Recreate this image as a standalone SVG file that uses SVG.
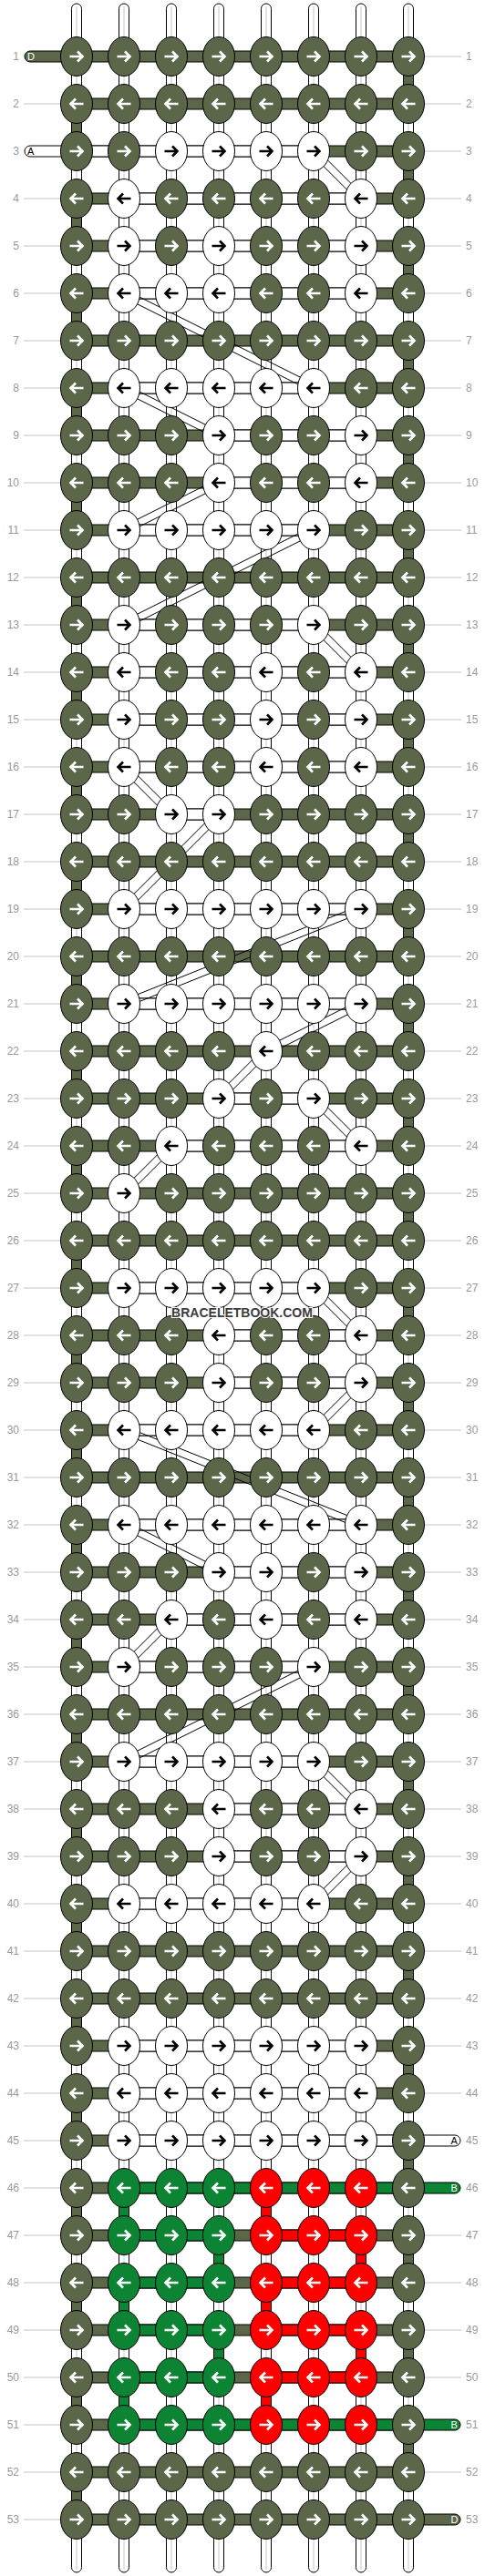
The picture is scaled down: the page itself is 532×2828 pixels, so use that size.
<svg xmlns="http://www.w3.org/2000/svg" width="532" height="2828" viewBox="0 0 532 2828">
<style>
.lb{font:12px "Liberation Sans",Arial,sans-serif;fill:#9a9a9a}
.lbl{text-anchor:end}
.pl{font:11px "Liberation Sans",Arial,sans-serif}
.dg{fill:none;stroke:#000;stroke-width:1}
.k{stroke:#000;stroke-width:1}
</style>
<defs>
<path id="aR" d="M-7.5,0H6M1,-5.5L6.5,0L1,5.5" fill="none" stroke-width="2.6"/>
<path id="aL" d="M7.5,0H-6M-1,-5.5L-6.5,0L-1,5.5" fill="none" stroke-width="2.6"/>
<g id="dR"><ellipse rx="17.5" ry="21.5" fill="#5c6749" stroke="#000"/><use href="#aR" stroke="#fff"/></g>
<g id="dL"><ellipse rx="17.5" ry="21.5" fill="#5c6749" stroke="#000"/><use href="#aL" stroke="#fff"/></g>
<g id="wR"><ellipse rx="17.5" ry="21.5" fill="#fff" stroke="#000"/><use href="#aR" stroke="#000"/></g>
<g id="wL"><ellipse rx="17.5" ry="21.5" fill="#fff" stroke="#000"/><use href="#aL" stroke="#000"/></g>
<g id="gR"><ellipse rx="17.5" ry="21.5" fill="#0d8433" stroke="#000"/><use href="#aR" stroke="#fff"/></g>
<g id="gL"><ellipse rx="17.5" ry="21.5" fill="#0d8433" stroke="#000"/><use href="#aL" stroke="#fff"/></g>
<g id="rR"><ellipse rx="17.5" ry="21.5" fill="#ff0000" stroke="#000"/><use href="#aR" stroke="#fff"/></g>
<g id="rL"><ellipse rx="17.5" ry="21.5" fill="#ff0000" stroke="#000"/><use href="#aL" stroke="#fff"/></g>
</defs>
<rect width="532" height="2828" fill="#fff"/>
<g id="row-guides">
<path stroke="#c4c4c4" stroke-width="1" fill="none" d="M26,114H66M26,218H66M26,270H66M26,322H66M26,374H66M26,426H66M26,478H66M26,530H66M26,582H66M26,634H66M26,686H66M26,738H66M26,790H66M26,842H66M26,894H66M26,946H66M26,998H66M26,1050H66M26,1102H66M26,1154H66M26,1206H66M26,1258H66M26,1310H66M26,1362H66M26,1414H66M26,1466H66M26,1518H66M26,1570H66M26,1622H66M26,1674H66M26,1726H66M26,1778H66M26,1830H66M26,1882H66M26,1934H66M26,1986H66M26,2038H66M26,2090H66M26,2142H66M26,2194H66M26,2246H66M26,2298H66M26,2350H66M26,2402H66M26,2454H66M26,2506H66M26,2558H66M26,2610H66M26,2662H66M26,2714H66M26,2766H66M466,62H506M466,114H506M466,166H506M466,218H506M466,270H506M466,322H506M466,374H506M466,426H506M466,478H506M466,530H506M466,582H506M466,634H506M466,686H506M466,738H506M466,790H506M466,842H506M466,894H506M466,946H506M466,998H506M466,1050H506M466,1102H506M466,1154H506M466,1206H506M466,1258H506M466,1310H506M466,1362H506M466,1414H506M466,1466H506M466,1518H506M466,1570H506M466,1622H506M466,1674H506M466,1726H506M466,1778H506M466,1830H506M466,1882H506M466,1934H506M466,1986H506M466,2038H506M466,2090H506M466,2142H506M466,2194H506M466,2246H506M466,2298H506M466,2454H506M466,2506H506M466,2558H506M466,2610H506M466,2714H506"/>
<g class="lb lbl">
<text x="21" y="66.3">1</text><text x="21" y="118.3">2</text><text x="21" y="170.3">3</text><text x="21" y="222.3">4</text><text x="21" y="274.3">5</text><text x="21" y="326.3">6</text><text x="21" y="378.3">7</text><text x="21" y="430.3">8</text><text x="21" y="482.3">9</text><text x="21" y="534.3">10</text><text x="21" y="586.3">11</text><text x="21" y="638.3">12</text><text x="21" y="690.3">13</text><text x="21" y="742.3">14</text><text x="21" y="794.3">15</text><text x="21" y="846.3">16</text><text x="21" y="898.3">17</text><text x="21" y="950.3">18</text><text x="21" y="1002.3">19</text><text x="21" y="1054.3">20</text><text x="21" y="1106.3">21</text><text x="21" y="1158.3">22</text><text x="21" y="1210.3">23</text><text x="21" y="1262.3">24</text><text x="21" y="1314.3">25</text><text x="21" y="1366.3">26</text><text x="21" y="1418.3">27</text><text x="21" y="1470.3">28</text><text x="21" y="1522.3">29</text><text x="21" y="1574.3">30</text><text x="21" y="1626.3">31</text><text x="21" y="1678.3">32</text><text x="21" y="1730.3">33</text><text x="21" y="1782.3">34</text><text x="21" y="1834.3">35</text><text x="21" y="1886.3">36</text><text x="21" y="1938.3">37</text><text x="21" y="1990.3">38</text><text x="21" y="2042.3">39</text><text x="21" y="2094.3">40</text><text x="21" y="2146.3">41</text><text x="21" y="2198.3">42</text><text x="21" y="2250.3">43</text><text x="21" y="2302.3">44</text><text x="21" y="2354.3">45</text><text x="21" y="2406.3">46</text><text x="21" y="2458.3">47</text><text x="21" y="2510.3">48</text><text x="21" y="2562.3">49</text><text x="21" y="2614.3">50</text><text x="21" y="2666.3">51</text><text x="21" y="2718.3">52</text><text x="21" y="2770.3">53</text>
</g>
<g class="lb">
<text x="511" y="66.3">1</text><text x="511" y="118.3">2</text><text x="511" y="170.3">3</text><text x="511" y="222.3">4</text><text x="511" y="274.3">5</text><text x="511" y="326.3">6</text><text x="511" y="378.3">7</text><text x="511" y="430.3">8</text><text x="511" y="482.3">9</text><text x="511" y="534.3">10</text><text x="511" y="586.3">11</text><text x="511" y="638.3">12</text><text x="511" y="690.3">13</text><text x="511" y="742.3">14</text><text x="511" y="794.3">15</text><text x="511" y="846.3">16</text><text x="511" y="898.3">17</text><text x="511" y="950.3">18</text><text x="511" y="1002.3">19</text><text x="511" y="1054.3">20</text><text x="511" y="1106.3">21</text><text x="511" y="1158.3">22</text><text x="511" y="1210.3">23</text><text x="511" y="1262.3">24</text><text x="511" y="1314.3">25</text><text x="511" y="1366.3">26</text><text x="511" y="1418.3">27</text><text x="511" y="1470.3">28</text><text x="511" y="1522.3">29</text><text x="511" y="1574.3">30</text><text x="511" y="1626.3">31</text><text x="511" y="1678.3">32</text><text x="511" y="1730.3">33</text><text x="511" y="1782.3">34</text><text x="511" y="1834.3">35</text><text x="511" y="1886.3">36</text><text x="511" y="1938.3">37</text><text x="511" y="1990.3">38</text><text x="511" y="2042.3">39</text><text x="511" y="2094.3">40</text><text x="511" y="2146.3">41</text><text x="511" y="2198.3">42</text><text x="511" y="2250.3">43</text><text x="511" y="2302.3">44</text><text x="511" y="2354.3">45</text><text x="511" y="2406.3">46</text><text x="511" y="2458.3">47</text><text x="511" y="2510.3">48</text><text x="511" y="2562.3">49</text><text x="511" y="2614.3">50</text><text x="511" y="2666.3">51</text><text x="511" y="2718.3">52</text><text x="511" y="2770.3">53</text>
</g>
</g>
<g id="connectors">
<g id="base-threads" fill="#fff" stroke="#000">
<rect x="78.5" y="4" width="11" height="2820" rx="5.5"/><rect x="130.5" y="4" width="11" height="2820" rx="5.5"/><rect x="182.5" y="4" width="11" height="2820" rx="5.5"/><rect x="234.5" y="4" width="11" height="2820" rx="5.5"/><rect x="286.5" y="4" width="11" height="2820" rx="5.5"/><rect x="338.5" y="4" width="11" height="2820" rx="5.5"/><rect x="390.5" y="4" width="11" height="2820" rx="5.5"/><rect x="442.5" y="4" width="11" height="2820" rx="5.5"/>
<path fill="none" stroke="#c8c8c8" d="M84,7V2821M136,7V2821M188,7V2821M240,7V2821M292,7V2821M344,7V2821M396,7V2821M448,7V2821"/>
</g>
<path id="thread-D-rows" class="k" fill="#5c6749" d="M448,56H33A6,6 0 0 0 33,68H448zM84,108h364v12h-364zM84,160h364v12h-364zM84,212h364v12h-364zM84,264h364v12h-364zM84,316h364v12h-364zM84,368h364v12h-364zM84,420h364v12h-364zM84,472h364v12h-364zM84,524h364v12h-364zM84,576h364v12h-364zM84,628h364v12h-364zM84,680h364v12h-364zM84,732h364v12h-364zM84,784h364v12h-364zM84,836h364v12h-364zM84,888h364v12h-364zM84,940h364v12h-364zM84,992h364v12h-364zM84,1044h364v12h-364zM84,1096h364v12h-364zM84,1148h364v12h-364zM84,1200h364v12h-364zM84,1252h364v12h-364zM84,1304h364v12h-364zM84,1356h364v12h-364zM84,1408h364v12h-364zM84,1460h364v12h-364zM84,1512h364v12h-364zM84,1564h364v12h-364zM84,1616h364v12h-364zM84,1668h364v12h-364zM84,1720h364v12h-364zM84,1772h364v12h-364zM84,1824h364v12h-364zM84,1876h364v12h-364zM84,1928h364v12h-364zM84,1980h364v12h-364zM84,2032h364v12h-364zM84,2084h364v12h-364zM84,2136h364v12h-364zM84,2188h364v12h-364zM84,2240h364v12h-364zM84,2292h364v12h-364zM84,2344h364v12h-364zM84,2396h364v12h-364zM84,2448h364v12h-364zM84,2500h364v12h-364zM84,2552h364v12h-364zM84,2604h364v12h-364zM84,2656h364v12h-364zM84,2708h364v12h-364zM84,2760H499A6,6 0 0 1 499,2772H84z"/>
<path id="thread-D-turns" class="k" fill="#5c6749" d="M78.5,114h11v52h-11zM78.5,218h11v52h-11zM78.5,322h11v52h-11zM78.5,426h11v52h-11zM78.5,530h11v52h-11zM78.5,634h11v52h-11zM78.5,738h11v52h-11zM78.5,842h11v52h-11zM78.5,946h11v52h-11zM78.5,1050h11v52h-11zM78.5,1154h11v52h-11zM78.5,1258h11v52h-11zM78.5,1362h11v52h-11zM78.5,1466h11v52h-11zM78.5,1570h11v52h-11zM78.5,1674h11v52h-11zM78.5,1778h11v52h-11zM78.5,1882h11v52h-11zM78.5,1986h11v52h-11zM78.5,2090h11v52h-11zM78.5,2194h11v52h-11zM78.5,2298h11v52h-11zM78.5,2402h11v52h-11zM78.5,2506h11v52h-11zM78.5,2610h11v52h-11zM78.5,2714h11v52h-11zM442.5,62h11v52h-11zM442.5,166h11v52h-11zM442.5,270h11v52h-11zM442.5,374h11v52h-11zM442.5,478h11v52h-11zM442.5,582h11v52h-11zM442.5,686h11v52h-11zM442.5,790h11v52h-11zM442.5,894h11v52h-11zM442.5,998h11v52h-11zM442.5,1102h11v52h-11zM442.5,1206h11v52h-11zM442.5,1310h11v52h-11zM442.5,1414h11v52h-11zM442.5,1518h11v52h-11zM442.5,1622h11v52h-11zM442.5,1726h11v52h-11zM442.5,1830h11v52h-11zM442.5,1934h11v52h-11zM442.5,2038h11v52h-11zM442.5,2142h11v52h-11zM442.5,2246h11v52h-11zM442.5,2350h11v52h-11zM442.5,2454h11v52h-11zM442.5,2558h11v52h-11zM442.5,2662h11v52h-11z"/>
<path id="thread-A" class="k" fill="#fff" d="M344,160H33A6,6 0 0 0 33,172H344zM136,212H396v12H136zM136,264H396v12H136zM136,316H396v12H136zM136,420H344v12H136zM240,472H396v12H240zM240,524H396v12H240zM136,576H344v12H136zM136,680H344v12H136zM136,732H396v12H136zM136,784H396v12H136zM136,836H396v12H136zM188,888H240v12H188zM136,992H396v12H136zM136,1096H396v12H136zM240,1200H344v12H240zM188,1252H396v12H188zM136,1408H344v12H136zM240,1460H396v12H240zM240,1512H396v12H240zM136,1564H344v12H136zM136,1668H396v12H136zM240,1720H396v12H240zM188,1772H396v12H188zM136,1824H344v12H136zM136,1928H344v12H136zM240,1980H396v12H240zM240,2032H396v12H240zM136,2084H344v12H136zM136,2240H396v12H136zM136,2292H396v12H136zM136,2344H499A6,6 0 0 1 499,2356H136z"/>
<path id="thread-B" class="k" fill="#0d8433" d="M136,2396H499A6,6 0 0 1 499,2408H136zM136,2448H240v12H136zM136,2500H240v12H136zM136,2552H240v12H136zM136,2604H240v12H136zM136,2656H499A6,6 0 0 1 499,2668H136zM130.5,2402h11v52h-11zM234.5,2454h11v52h-11zM130.5,2506h11v52h-11zM234.5,2558h11v52h-11zM130.5,2610h11v52h-11z"/>
<path id="thread-C" class="k" fill="#ff0000" d="M292,2448H396v12H292zM292,2500H396v12H292zM292,2552H396v12H292zM292,2604H396v12H292zM286.5,2402h11v52h-11zM390.5,2454h11v52h-11zM286.5,2506h11v52h-11zM390.5,2558h11v52h-11zM286.5,2610h11v52h-11z"/>
<g id="diagonals">
<path class="dg" d="M341.2,168.8L393.2,220.8M346.8,163.2L398.8,215.2"/>
<path class="dg" d="M134.2,325.6L342.2,429.6M137.8,318.4L345.8,422.4"/>
<path class="dg" d="M134.2,429.6L238.2,481.6M137.8,422.4L241.8,474.4"/>
<path class="dg" d="M238.2,526.4L134.2,578.4M241.8,533.6L137.8,585.6"/>
<path class="dg" d="M342.2,578.4L134.2,682.4M345.8,585.6L137.8,689.6"/>
<path class="dg" d="M341.2,688.8L393.2,740.8M346.8,683.2L398.8,735.2"/>
<path class="dg" d="M133.2,844.8L185.2,896.8M138.8,839.2L190.8,891.2"/>
<path class="dg" d="M237.2,891.2L133.2,995.2M242.8,896.8L138.8,1000.8"/>
<path class="dg" d="M394.5,994.3L134.5,1098.3M397.5,1001.7L137.5,1105.7"/>
<path class="dg" d="M394.2,1098.4L290.2,1150.4M397.8,1105.6L293.8,1157.6"/>
<path class="dg" d="M289.2,1151.2L237.2,1203.2M294.8,1156.8L242.8,1208.8"/>
<path class="dg" d="M341.2,1208.8L393.2,1260.8M346.8,1203.2L398.8,1255.2"/>
<path class="dg" d="M185.2,1255.2L133.2,1307.2M190.8,1260.8L138.8,1312.8"/>
<path class="dg" d="M341.2,1416.8L393.2,1468.8M346.8,1411.2L398.8,1463.2"/>
<path class="dg" d="M393.2,1515.2L341.2,1567.2M398.8,1520.8L346.8,1572.8"/>
<path class="dg" d="M134.5,1573.7L394.5,1677.7M137.5,1566.3L397.5,1670.3"/>
<path class="dg" d="M134.2,1677.6L238.2,1729.6M137.8,1670.4L241.8,1722.4"/>
<path class="dg" d="M185.2,1775.2L133.2,1827.2M190.8,1780.8L138.8,1832.8"/>
<path class="dg" d="M342.2,1826.4L134.2,1930.4M345.8,1833.6L137.8,1937.6"/>
<path class="dg" d="M341.2,1936.8L393.2,1988.8M346.8,1931.2L398.8,1983.2"/>
<path class="dg" d="M393.2,2035.2L341.2,2087.2M398.8,2040.8L346.8,2092.8"/>
</g>
<g id="thread-labels" class="pl">
<text x="30" y="66" fill="#fff">D</text>
<text x="30" y="170" fill="#000">A</text>
<text x="494.5" y="2354" fill="#000">A</text>
<text x="494.5" y="2406" fill="#fff">B</text>
<text x="494.5" y="2666" fill="#fff">B</text>
<text x="494.5" y="2770" fill="#fff">D</text>
</g>
</g>
<g id="knots">
<g id="row1" transform="translate(0,62)"><use id="n1-1" href="#dR" x="84"/><use id="n1-2" href="#dR" x="136"/><use id="n1-3" href="#dR" x="188"/><use id="n1-4" href="#dR" x="240"/><use id="n1-5" href="#dR" x="292"/><use id="n1-6" href="#dR" x="344"/><use id="n1-7" href="#dR" x="396"/><use id="n1-8" href="#dR" x="448"/></g>
<g id="row2" transform="translate(0,114)"><use id="n2-1" href="#dL" x="84"/><use id="n2-2" href="#dL" x="136"/><use id="n2-3" href="#dL" x="188"/><use id="n2-4" href="#dL" x="240"/><use id="n2-5" href="#dL" x="292"/><use id="n2-6" href="#dL" x="344"/><use id="n2-7" href="#dL" x="396"/><use id="n2-8" href="#dL" x="448"/></g>
<g id="row3" transform="translate(0,166)"><use id="n3-1" href="#dR" x="84"/><use id="n3-2" href="#dR" x="136"/><use id="n3-3" href="#wR" x="188"/><use id="n3-4" href="#wR" x="240"/><use id="n3-5" href="#wR" x="292"/><use id="n3-6" href="#wR" x="344"/><use id="n3-7" href="#dR" x="396"/><use id="n3-8" href="#dR" x="448"/></g>
<g id="row4" transform="translate(0,218)"><use id="n4-1" href="#dL" x="84"/><use id="n4-2" href="#wL" x="136"/><use id="n4-3" href="#dL" x="188"/><use id="n4-4" href="#dL" x="240"/><use id="n4-5" href="#dL" x="292"/><use id="n4-6" href="#dL" x="344"/><use id="n4-7" href="#wL" x="396"/><use id="n4-8" href="#dL" x="448"/></g>
<g id="row5" transform="translate(0,270)"><use id="n5-1" href="#dR" x="84"/><use id="n5-2" href="#wR" x="136"/><use id="n5-3" href="#dR" x="188"/><use id="n5-4" href="#wR" x="240"/><use id="n5-5" href="#dR" x="292"/><use id="n5-6" href="#dR" x="344"/><use id="n5-7" href="#wR" x="396"/><use id="n5-8" href="#dR" x="448"/></g>
<g id="row6" transform="translate(0,322)"><use id="n6-1" href="#dL" x="84"/><use id="n6-2" href="#wL" x="136"/><use id="n6-3" href="#wL" x="188"/><use id="n6-4" href="#wL" x="240"/><use id="n6-5" href="#dL" x="292"/><use id="n6-6" href="#dL" x="344"/><use id="n6-7" href="#wL" x="396"/><use id="n6-8" href="#dL" x="448"/></g>
<g id="row7" transform="translate(0,374)"><use id="n7-1" href="#dR" x="84"/><use id="n7-2" href="#dR" x="136"/><use id="n7-3" href="#dR" x="188"/><use id="n7-4" href="#dR" x="240"/><use id="n7-5" href="#dR" x="292"/><use id="n7-6" href="#dR" x="344"/><use id="n7-7" href="#dR" x="396"/><use id="n7-8" href="#dR" x="448"/></g>
<g id="row8" transform="translate(0,426)"><use id="n8-1" href="#dL" x="84"/><use id="n8-2" href="#wL" x="136"/><use id="n8-3" href="#wL" x="188"/><use id="n8-4" href="#wL" x="240"/><use id="n8-5" href="#wL" x="292"/><use id="n8-6" href="#wL" x="344"/><use id="n8-7" href="#dL" x="396"/><use id="n8-8" href="#dL" x="448"/></g>
<g id="row9" transform="translate(0,478)"><use id="n9-1" href="#dR" x="84"/><use id="n9-2" href="#dR" x="136"/><use id="n9-3" href="#dR" x="188"/><use id="n9-4" href="#wR" x="240"/><use id="n9-5" href="#dR" x="292"/><use id="n9-6" href="#dR" x="344"/><use id="n9-7" href="#wR" x="396"/><use id="n9-8" href="#dR" x="448"/></g>
<g id="row10" transform="translate(0,530)"><use id="n10-1" href="#dL" x="84"/><use id="n10-2" href="#dL" x="136"/><use id="n10-3" href="#dL" x="188"/><use id="n10-4" href="#wL" x="240"/><use id="n10-5" href="#dL" x="292"/><use id="n10-6" href="#dL" x="344"/><use id="n10-7" href="#wL" x="396"/><use id="n10-8" href="#dL" x="448"/></g>
<g id="row11" transform="translate(0,582)"><use id="n11-1" href="#dR" x="84"/><use id="n11-2" href="#wR" x="136"/><use id="n11-3" href="#wR" x="188"/><use id="n11-4" href="#wR" x="240"/><use id="n11-5" href="#wR" x="292"/><use id="n11-6" href="#wR" x="344"/><use id="n11-7" href="#dR" x="396"/><use id="n11-8" href="#dR" x="448"/></g>
<g id="row12" transform="translate(0,634)"><use id="n12-1" href="#dL" x="84"/><use id="n12-2" href="#dL" x="136"/><use id="n12-3" href="#dL" x="188"/><use id="n12-4" href="#dL" x="240"/><use id="n12-5" href="#dL" x="292"/><use id="n12-6" href="#dL" x="344"/><use id="n12-7" href="#dL" x="396"/><use id="n12-8" href="#dL" x="448"/></g>
<g id="row13" transform="translate(0,686)"><use id="n13-1" href="#dR" x="84"/><use id="n13-2" href="#wR" x="136"/><use id="n13-3" href="#dR" x="188"/><use id="n13-4" href="#dR" x="240"/><use id="n13-5" href="#dR" x="292"/><use id="n13-6" href="#wR" x="344"/><use id="n13-7" href="#dR" x="396"/><use id="n13-8" href="#dR" x="448"/></g>
<g id="row14" transform="translate(0,738)"><use id="n14-1" href="#dL" x="84"/><use id="n14-2" href="#wL" x="136"/><use id="n14-3" href="#dL" x="188"/><use id="n14-4" href="#dL" x="240"/><use id="n14-5" href="#wL" x="292"/><use id="n14-6" href="#dL" x="344"/><use id="n14-7" href="#wL" x="396"/><use id="n14-8" href="#dL" x="448"/></g>
<g id="row15" transform="translate(0,790)"><use id="n15-1" href="#dR" x="84"/><use id="n15-2" href="#wR" x="136"/><use id="n15-3" href="#dR" x="188"/><use id="n15-4" href="#dR" x="240"/><use id="n15-5" href="#wR" x="292"/><use id="n15-6" href="#dR" x="344"/><use id="n15-7" href="#wR" x="396"/><use id="n15-8" href="#dR" x="448"/></g>
<g id="row16" transform="translate(0,842)"><use id="n16-1" href="#dL" x="84"/><use id="n16-2" href="#wL" x="136"/><use id="n16-3" href="#dL" x="188"/><use id="n16-4" href="#dL" x="240"/><use id="n16-5" href="#wL" x="292"/><use id="n16-6" href="#dL" x="344"/><use id="n16-7" href="#wL" x="396"/><use id="n16-8" href="#dL" x="448"/></g>
<g id="row17" transform="translate(0,894)"><use id="n17-1" href="#dR" x="84"/><use id="n17-2" href="#dR" x="136"/><use id="n17-3" href="#wR" x="188"/><use id="n17-4" href="#wR" x="240"/><use id="n17-5" href="#dR" x="292"/><use id="n17-6" href="#dR" x="344"/><use id="n17-7" href="#dR" x="396"/><use id="n17-8" href="#dR" x="448"/></g>
<g id="row18" transform="translate(0,946)"><use id="n18-1" href="#dL" x="84"/><use id="n18-2" href="#dL" x="136"/><use id="n18-3" href="#dL" x="188"/><use id="n18-4" href="#dL" x="240"/><use id="n18-5" href="#dL" x="292"/><use id="n18-6" href="#dL" x="344"/><use id="n18-7" href="#dL" x="396"/><use id="n18-8" href="#dL" x="448"/></g>
<g id="row19" transform="translate(0,998)"><use id="n19-1" href="#dR" x="84"/><use id="n19-2" href="#wR" x="136"/><use id="n19-3" href="#wR" x="188"/><use id="n19-4" href="#wR" x="240"/><use id="n19-5" href="#wR" x="292"/><use id="n19-6" href="#wR" x="344"/><use id="n19-7" href="#wR" x="396"/><use id="n19-8" href="#dR" x="448"/></g>
<g id="row20" transform="translate(0,1050)"><use id="n20-1" href="#dL" x="84"/><use id="n20-2" href="#dL" x="136"/><use id="n20-3" href="#dL" x="188"/><use id="n20-4" href="#dL" x="240"/><use id="n20-5" href="#dL" x="292"/><use id="n20-6" href="#dL" x="344"/><use id="n20-7" href="#dL" x="396"/><use id="n20-8" href="#dL" x="448"/></g>
<g id="row21" transform="translate(0,1102)"><use id="n21-1" href="#dR" x="84"/><use id="n21-2" href="#wR" x="136"/><use id="n21-3" href="#wR" x="188"/><use id="n21-4" href="#wR" x="240"/><use id="n21-5" href="#wR" x="292"/><use id="n21-6" href="#wR" x="344"/><use id="n21-7" href="#wR" x="396"/><use id="n21-8" href="#dR" x="448"/></g>
<g id="row22" transform="translate(0,1154)"><use id="n22-1" href="#dL" x="84"/><use id="n22-2" href="#dL" x="136"/><use id="n22-3" href="#dL" x="188"/><use id="n22-4" href="#dL" x="240"/><use id="n22-5" href="#wL" x="292"/><use id="n22-6" href="#dL" x="344"/><use id="n22-7" href="#dL" x="396"/><use id="n22-8" href="#dL" x="448"/></g>
<g id="row23" transform="translate(0,1206)"><use id="n23-1" href="#dR" x="84"/><use id="n23-2" href="#dR" x="136"/><use id="n23-3" href="#dR" x="188"/><use id="n23-4" href="#wR" x="240"/><use id="n23-5" href="#dR" x="292"/><use id="n23-6" href="#wR" x="344"/><use id="n23-7" href="#dR" x="396"/><use id="n23-8" href="#dR" x="448"/></g>
<g id="row24" transform="translate(0,1258)"><use id="n24-1" href="#dL" x="84"/><use id="n24-2" href="#dL" x="136"/><use id="n24-3" href="#wL" x="188"/><use id="n24-4" href="#dL" x="240"/><use id="n24-5" href="#dL" x="292"/><use id="n24-6" href="#dL" x="344"/><use id="n24-7" href="#wL" x="396"/><use id="n24-8" href="#dL" x="448"/></g>
<g id="row25" transform="translate(0,1310)"><use id="n25-1" href="#dR" x="84"/><use id="n25-2" href="#wR" x="136"/><use id="n25-3" href="#dR" x="188"/><use id="n25-4" href="#dR" x="240"/><use id="n25-5" href="#dR" x="292"/><use id="n25-6" href="#dR" x="344"/><use id="n25-7" href="#dR" x="396"/><use id="n25-8" href="#dR" x="448"/></g>
<g id="row26" transform="translate(0,1362)"><use id="n26-1" href="#dL" x="84"/><use id="n26-2" href="#dL" x="136"/><use id="n26-3" href="#dL" x="188"/><use id="n26-4" href="#dL" x="240"/><use id="n26-5" href="#dL" x="292"/><use id="n26-6" href="#dL" x="344"/><use id="n26-7" href="#dL" x="396"/><use id="n26-8" href="#dL" x="448"/></g>
<g id="row27" transform="translate(0,1414)"><use id="n27-1" href="#dR" x="84"/><use id="n27-2" href="#wR" x="136"/><use id="n27-3" href="#wR" x="188"/><use id="n27-4" href="#wR" x="240"/><use id="n27-5" href="#wR" x="292"/><use id="n27-6" href="#wR" x="344"/><use id="n27-7" href="#dR" x="396"/><use id="n27-8" href="#dR" x="448"/></g>
<g id="row28" transform="translate(0,1466)"><use id="n28-1" href="#dL" x="84"/><use id="n28-2" href="#dL" x="136"/><use id="n28-3" href="#dL" x="188"/><use id="n28-4" href="#wL" x="240"/><use id="n28-5" href="#dL" x="292"/><use id="n28-6" href="#dL" x="344"/><use id="n28-7" href="#wL" x="396"/><use id="n28-8" href="#dL" x="448"/></g>
<g id="row29" transform="translate(0,1518)"><use id="n29-1" href="#dR" x="84"/><use id="n29-2" href="#dR" x="136"/><use id="n29-3" href="#dR" x="188"/><use id="n29-4" href="#wR" x="240"/><use id="n29-5" href="#dR" x="292"/><use id="n29-6" href="#dR" x="344"/><use id="n29-7" href="#wR" x="396"/><use id="n29-8" href="#dR" x="448"/></g>
<g id="row30" transform="translate(0,1570)"><use id="n30-1" href="#dL" x="84"/><use id="n30-2" href="#wL" x="136"/><use id="n30-3" href="#wL" x="188"/><use id="n30-4" href="#wL" x="240"/><use id="n30-5" href="#wL" x="292"/><use id="n30-6" href="#wL" x="344"/><use id="n30-7" href="#dL" x="396"/><use id="n30-8" href="#dL" x="448"/></g>
<g id="row31" transform="translate(0,1622)"><use id="n31-1" href="#dR" x="84"/><use id="n31-2" href="#dR" x="136"/><use id="n31-3" href="#dR" x="188"/><use id="n31-4" href="#dR" x="240"/><use id="n31-5" href="#dR" x="292"/><use id="n31-6" href="#dR" x="344"/><use id="n31-7" href="#dR" x="396"/><use id="n31-8" href="#dR" x="448"/></g>
<g id="row32" transform="translate(0,1674)"><use id="n32-1" href="#dL" x="84"/><use id="n32-2" href="#wL" x="136"/><use id="n32-3" href="#wL" x="188"/><use id="n32-4" href="#wL" x="240"/><use id="n32-5" href="#wL" x="292"/><use id="n32-6" href="#wL" x="344"/><use id="n32-7" href="#wL" x="396"/><use id="n32-8" href="#dL" x="448"/></g>
<g id="row33" transform="translate(0,1726)"><use id="n33-1" href="#dR" x="84"/><use id="n33-2" href="#dR" x="136"/><use id="n33-3" href="#dR" x="188"/><use id="n33-4" href="#wR" x="240"/><use id="n33-5" href="#wR" x="292"/><use id="n33-6" href="#dR" x="344"/><use id="n33-7" href="#wR" x="396"/><use id="n33-8" href="#dR" x="448"/></g>
<g id="row34" transform="translate(0,1778)"><use id="n34-1" href="#dL" x="84"/><use id="n34-2" href="#dL" x="136"/><use id="n34-3" href="#wL" x="188"/><use id="n34-4" href="#dL" x="240"/><use id="n34-5" href="#wL" x="292"/><use id="n34-6" href="#dL" x="344"/><use id="n34-7" href="#wL" x="396"/><use id="n34-8" href="#dL" x="448"/></g>
<g id="row35" transform="translate(0,1830)"><use id="n35-1" href="#dR" x="84"/><use id="n35-2" href="#wR" x="136"/><use id="n35-3" href="#dR" x="188"/><use id="n35-4" href="#dR" x="240"/><use id="n35-5" href="#dR" x="292"/><use id="n35-6" href="#wR" x="344"/><use id="n35-7" href="#dR" x="396"/><use id="n35-8" href="#dR" x="448"/></g>
<g id="row36" transform="translate(0,1882)"><use id="n36-1" href="#dL" x="84"/><use id="n36-2" href="#dL" x="136"/><use id="n36-3" href="#dL" x="188"/><use id="n36-4" href="#dL" x="240"/><use id="n36-5" href="#dL" x="292"/><use id="n36-6" href="#dL" x="344"/><use id="n36-7" href="#dL" x="396"/><use id="n36-8" href="#dL" x="448"/></g>
<g id="row37" transform="translate(0,1934)"><use id="n37-1" href="#dR" x="84"/><use id="n37-2" href="#wR" x="136"/><use id="n37-3" href="#wR" x="188"/><use id="n37-4" href="#wR" x="240"/><use id="n37-5" href="#wR" x="292"/><use id="n37-6" href="#wR" x="344"/><use id="n37-7" href="#dR" x="396"/><use id="n37-8" href="#dR" x="448"/></g>
<g id="row38" transform="translate(0,1986)"><use id="n38-1" href="#dL" x="84"/><use id="n38-2" href="#dL" x="136"/><use id="n38-3" href="#dL" x="188"/><use id="n38-4" href="#wL" x="240"/><use id="n38-5" href="#dL" x="292"/><use id="n38-6" href="#dL" x="344"/><use id="n38-7" href="#wL" x="396"/><use id="n38-8" href="#dL" x="448"/></g>
<g id="row39" transform="translate(0,2038)"><use id="n39-1" href="#dR" x="84"/><use id="n39-2" href="#dR" x="136"/><use id="n39-3" href="#dR" x="188"/><use id="n39-4" href="#wR" x="240"/><use id="n39-5" href="#dR" x="292"/><use id="n39-6" href="#dR" x="344"/><use id="n39-7" href="#wR" x="396"/><use id="n39-8" href="#dR" x="448"/></g>
<g id="row40" transform="translate(0,2090)"><use id="n40-1" href="#dL" x="84"/><use id="n40-2" href="#wL" x="136"/><use id="n40-3" href="#wL" x="188"/><use id="n40-4" href="#wL" x="240"/><use id="n40-5" href="#wL" x="292"/><use id="n40-6" href="#wL" x="344"/><use id="n40-7" href="#dL" x="396"/><use id="n40-8" href="#dL" x="448"/></g>
<g id="row41" transform="translate(0,2142)"><use id="n41-1" href="#dR" x="84"/><use id="n41-2" href="#dR" x="136"/><use id="n41-3" href="#dR" x="188"/><use id="n41-4" href="#dR" x="240"/><use id="n41-5" href="#dR" x="292"/><use id="n41-6" href="#dR" x="344"/><use id="n41-7" href="#dR" x="396"/><use id="n41-8" href="#dR" x="448"/></g>
<g id="row42" transform="translate(0,2194)"><use id="n42-1" href="#dL" x="84"/><use id="n42-2" href="#dL" x="136"/><use id="n42-3" href="#dL" x="188"/><use id="n42-4" href="#dL" x="240"/><use id="n42-5" href="#dL" x="292"/><use id="n42-6" href="#dL" x="344"/><use id="n42-7" href="#dL" x="396"/><use id="n42-8" href="#dL" x="448"/></g>
<g id="row43" transform="translate(0,2246)"><use id="n43-1" href="#dR" x="84"/><use id="n43-2" href="#wR" x="136"/><use id="n43-3" href="#wR" x="188"/><use id="n43-4" href="#wR" x="240"/><use id="n43-5" href="#wR" x="292"/><use id="n43-6" href="#wR" x="344"/><use id="n43-7" href="#wR" x="396"/><use id="n43-8" href="#dR" x="448"/></g>
<g id="row44" transform="translate(0,2298)"><use id="n44-1" href="#dL" x="84"/><use id="n44-2" href="#wL" x="136"/><use id="n44-3" href="#wL" x="188"/><use id="n44-4" href="#wL" x="240"/><use id="n44-5" href="#wL" x="292"/><use id="n44-6" href="#wL" x="344"/><use id="n44-7" href="#wL" x="396"/><use id="n44-8" href="#dL" x="448"/></g>
<g id="row45" transform="translate(0,2350)"><use id="n45-1" href="#dR" x="84"/><use id="n45-2" href="#wR" x="136"/><use id="n45-3" href="#wR" x="188"/><use id="n45-4" href="#wR" x="240"/><use id="n45-5" href="#wR" x="292"/><use id="n45-6" href="#wR" x="344"/><use id="n45-7" href="#wR" x="396"/><use id="n45-8" href="#dR" x="448"/></g>
<g id="row46" transform="translate(0,2402)"><use id="n46-1" href="#dL" x="84"/><use id="n46-2" href="#gL" x="136"/><use id="n46-3" href="#gL" x="188"/><use id="n46-4" href="#gL" x="240"/><use id="n46-5" href="#rL" x="292"/><use id="n46-6" href="#rL" x="344"/><use id="n46-7" href="#rL" x="396"/><use id="n46-8" href="#dL" x="448"/></g>
<g id="row47" transform="translate(0,2454)"><use id="n47-1" href="#dR" x="84"/><use id="n47-2" href="#gR" x="136"/><use id="n47-3" href="#gR" x="188"/><use id="n47-4" href="#gR" x="240"/><use id="n47-5" href="#rR" x="292"/><use id="n47-6" href="#rR" x="344"/><use id="n47-7" href="#rR" x="396"/><use id="n47-8" href="#dR" x="448"/></g>
<g id="row48" transform="translate(0,2506)"><use id="n48-1" href="#dL" x="84"/><use id="n48-2" href="#gL" x="136"/><use id="n48-3" href="#gL" x="188"/><use id="n48-4" href="#gL" x="240"/><use id="n48-5" href="#rL" x="292"/><use id="n48-6" href="#rL" x="344"/><use id="n48-7" href="#rL" x="396"/><use id="n48-8" href="#dL" x="448"/></g>
<g id="row49" transform="translate(0,2558)"><use id="n49-1" href="#dR" x="84"/><use id="n49-2" href="#gR" x="136"/><use id="n49-3" href="#gR" x="188"/><use id="n49-4" href="#gR" x="240"/><use id="n49-5" href="#rR" x="292"/><use id="n49-6" href="#rR" x="344"/><use id="n49-7" href="#rR" x="396"/><use id="n49-8" href="#dR" x="448"/></g>
<g id="row50" transform="translate(0,2610)"><use id="n50-1" href="#dL" x="84"/><use id="n50-2" href="#gL" x="136"/><use id="n50-3" href="#gL" x="188"/><use id="n50-4" href="#gL" x="240"/><use id="n50-5" href="#rL" x="292"/><use id="n50-6" href="#rL" x="344"/><use id="n50-7" href="#rL" x="396"/><use id="n50-8" href="#dL" x="448"/></g>
<g id="row51" transform="translate(0,2662)"><use id="n51-1" href="#dR" x="84"/><use id="n51-2" href="#gR" x="136"/><use id="n51-3" href="#gR" x="188"/><use id="n51-4" href="#gR" x="240"/><use id="n51-5" href="#rR" x="292"/><use id="n51-6" href="#rR" x="344"/><use id="n51-7" href="#rR" x="396"/><use id="n51-8" href="#dR" x="448"/></g>
<g id="row52" transform="translate(0,2714)"><use id="n52-1" href="#dL" x="84"/><use id="n52-2" href="#dL" x="136"/><use id="n52-3" href="#dL" x="188"/><use id="n52-4" href="#dL" x="240"/><use id="n52-5" href="#dL" x="292"/><use id="n52-6" href="#dL" x="344"/><use id="n52-7" href="#dL" x="396"/><use id="n52-8" href="#dL" x="448"/></g>
<g id="row53" transform="translate(0,2766)"><use id="n53-1" href="#dR" x="84"/><use id="n53-2" href="#dR" x="136"/><use id="n53-3" href="#dR" x="188"/><use id="n53-4" href="#dR" x="240"/><use id="n53-5" href="#dR" x="292"/><use id="n53-6" href="#dR" x="344"/><use id="n53-7" href="#dR" x="396"/><use id="n53-8" href="#dR" x="448"/></g>
</g>
<text id="watermark" x="265.5" y="1446" text-anchor="middle" style="font:bold 14px 'Liberation Sans',Arial,sans-serif" fill="#3c3c3c" stroke="#fff" stroke-width="2" paint-order="stroke">BRACELETBOOK.COM</text>
</svg>
